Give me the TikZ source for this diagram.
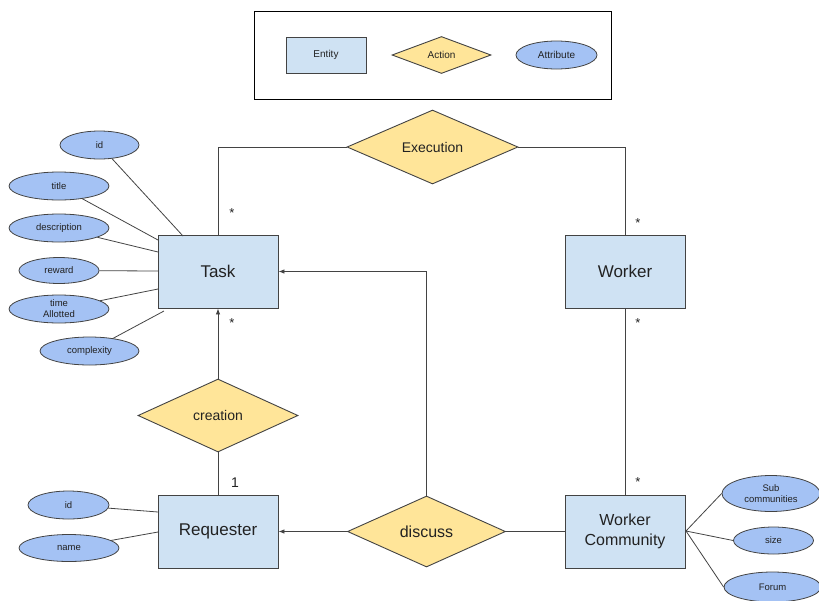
\documentclass[tikz,border=0pt]{standalone}
\usepackage{fontspec}
\setmainfont{Liberation Sans}
\usetikzlibrary{shapes.geometric,arrows.meta}
\definecolor{entfill}{HTML}{CFE2F3}
\definecolor{actfill}{HTML}{FFE599}
\definecolor{attfill}{HTML}{A4C2F4}
\definecolor{edge}{HTML}{434343}
\definecolor{txt}{HTML}{222222}
\begin{document}
\begin{tikzpicture}[x=1pt,y=-1pt,
  every node/.style={text=txt,inner sep=0pt},
  entity/.style={draw=edge,fill=entfill,line width=0.9pt,minimum width=120pt,minimum height=73pt,align=center,font=\fontsize{17}{20}\selectfont},
  action/.style={draw=edge,fill=actfill,line width=0.9pt,diamond,aspect=2.2,align=center,font=\fontsize{14}{16}\selectfont},
  attr/.style={draw=edge,fill=attfill,line width=0.8pt,ellipse,align=center,font=\fontsize{9.5}{11}\selectfont},
  conn/.style={draw=edge,line width=0.8pt},
  arr/.style={conn,-{Latex[length=6pt,width=4.5pt]}},
  card/.style={font=\fontsize{13}{14}\selectfont}
]
\useasboundingbox (0,0) rectangle (819,600);
% legend
\node[draw=black,line width=0.8pt,minimum width=357pt,minimum height=88pt] (legend) at (432.5,55) {};
\node[entity,minimum width=80pt,minimum height=36pt,font=\fontsize{10}{12}\selectfont] (lent) at (326,55) {Entity};
\node[action,minimum width=99pt,minimum height=37pt,aspect=2.7,inner sep=0pt,font=\fontsize{10}{12}\selectfont] (lact) at (441.5,55) {Action};
\node[attr,minimum width=81pt,minimum height=28pt,font=\fontsize{10}{12}\selectfont] (latt) at (556.5,55) {Attribute};

% entities
\node[entity] (task) at (218,271.5) {Task};
\node[entity] (worker) at (625,271.5) {Worker};
\node[entity] (req) at (218,531.5) {Requester};
\node[entity,font=\fontsize{16}{20}\selectfont] (wc) at (625,531.5) {Worker\\Community};

% actions
\node[action,minimum width=171pt,minimum height=74pt] (exec) at (432.5,147) {};
\node[font=\fontsize{14}{16}\selectfont] at (432.5,147) {Execution};
\node[action,minimum width=160pt,minimum height=73pt] (creat) at (218,415.5) {};
\node[font=\fontsize{14}{16}\selectfont] at (218,415.5) {creation};
\node[action,minimum width=158pt,minimum height=71pt] (disc) at (426.5,531.5) {};
\node[font=\fontsize{16}{18}\selectfont] at (426.5,532) {discuss};

% connectors
\draw[conn] (exec.west) -| (task.north);
\draw[conn] (exec.east) -| (worker.north);
\draw[conn] (worker.south) -- (wc.north);
\draw[arr] (creat.north) -- (task.south);
\draw[conn] (creat.south) -- (req.north);
\draw[arr] (disc.north) |- (task.east);
\draw[arr] (disc.west) -- (req.east);
\draw[conn] (disc.east) -- (wc.west);

% cardinalities
\node[card] at (232,213) {*};
\node[card] at (638,223) {*};
\node[card] at (232,323) {*};
\node[card] at (638,323) {*};
\node[card] at (638,482) {*};
\node[font=\fontsize{14}{16}\selectfont] at (235,483) {1};

% task attributes
\node[attr,minimum width=79pt,minimum height=28pt] (tid) at (99.5,145) {id};
\node[attr,minimum width=100pt,minimum height=28pt] (ttitle) at (59,186) {title};
\node[attr,minimum width=100pt,minimum height=28pt] (tdesc) at (59,228) {description};
\node[attr,minimum width=80pt,minimum height=26pt] (trew) at (59,270.5) {reward};
\node[attr,minimum width=100pt,minimum height=28pt,font=\fontsize{9.5}{11}\selectfont] (ttime) at (59,309) {time\\Allotted};
\node[attr,minimum width=99pt,minimum height=28pt] (tcomp) at (89.5,351) {complexity};
\coordinate (tA) at (183,236);
\coordinate (tB) at (158,240);
\coordinate (tC) at (158,252);
\coordinate (tD) at (158,271);
\coordinate (tE) at (158,289);
\coordinate (tF) at (164,311);
\draw[conn] (tid) -- (tA);
\draw[conn] (ttitle) -- (tB);
\draw[conn] (tdesc) -- (tC);
\draw[conn] (trew) -- (tD);
\draw[conn] (ttime) -- (tE);
\draw[conn] (tcomp) -- (tF);

% requester attributes
\node[attr,minimum width=81pt,minimum height=28pt] (rid) at (68.5,505) {id};
\node[attr,minimum width=100pt,minimum height=27pt] (rname) at (69,548) {name};
\coordinate (rA) at (158,512);
\coordinate (rB) at (158,532);
\draw[conn] (rid) -- (rA);
\draw[conn] (rname) -- (rB);

% worker community attributes
\node[attr,minimum width=98pt,minimum height=36pt] (wsub) at (771,493.5) {Sub\\communities};
\node[attr,minimum width=80pt,minimum height=27pt] (wsize) at (773.5,540.5) {size};
\node[attr,minimum width=97pt,minimum height=30pt] (wfor) at (772.5,587) {Forum};
\coordinate (wA) at (686,531);
\draw[conn] (wA) -- (wsub.west);
\draw[conn] (wA) -- (wsize.west);
\draw[conn] (wA) -- (wfor.west);
\end{tikzpicture}
\end{document}
